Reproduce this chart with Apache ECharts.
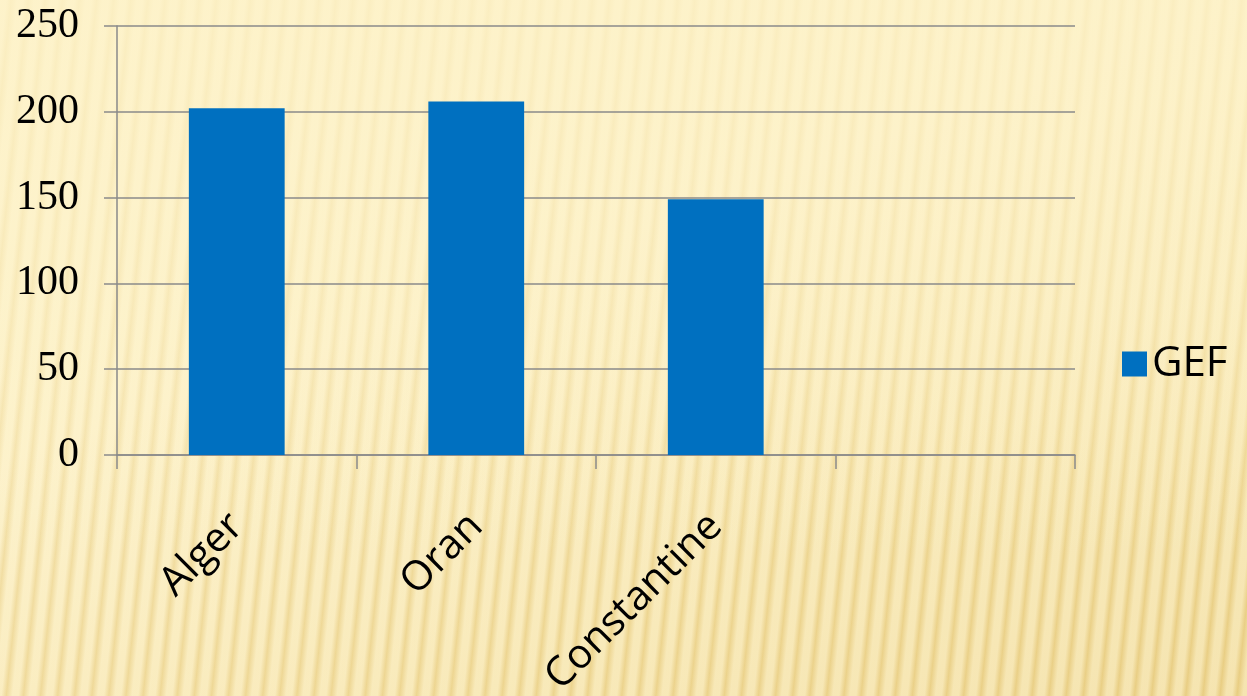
<!DOCTYPE html>
<html>
<head>
<meta charset="utf-8">
<script src="https://cdn.jsdelivr.net/npm/echarts@6/dist/echarts.min.js"></script>
<style>
html,body{margin:0;padding:0;width:1247px;height:696px;overflow:hidden;}
body{
  background:
    linear-gradient(to bottom, rgba(253,242,200,0.75) 0%, rgba(253,242,200,0.45) 45%, rgba(253,242,200,0) 80%),
    repeating-linear-gradient(96deg, rgba(255,248,220,0.45) 0px, rgba(255,248,220,0.45) 6px, rgba(215,180,95,0.22) 11px, rgba(255,248,220,0.45) 17px),
    linear-gradient(160deg, #FDF1C6 0%, #FBEDBE 40%, #F3DE9E 75%, #EDD48C 100%);
}
#chart{width:1247px;height:696px;}
</style>
</head>
<body>
<div id="chart"></div>
<script>
const categories = ['Alger', 'Oran', 'Constantine', ''];
const gefValues = [202, 206, 149, null];
const seriesName = 'GEF';
const yTicks = { min: 0, max: 250, interval: 50 };

const chart = echarts.init(document.getElementById('chart'));
const axisGray = '#8A8A8A';
chart.setOption({
  backgroundColor: 'transparent',
  animation: false,
  grid: { left: 117, right: 172, top: 26, bottom: 241, containLabel: false, outerBoundsMode: 'none' },
  legend: {
    data: [seriesName],
    left: 1117, top: 338,
    icon: 'rect', itemWidth: 25, itemHeight: 25, itemGap: 12,
    textStyle: { fontFamily: 'Open Sans', fontSize: 42, color: '#000' }
  },
  xAxis: {
    type: 'category',
    data: categories,
    boundaryGap: true,
    axisLine: { lineStyle: { color: axisGray, width: 1.5 } },
    axisTick: { show: true, interval: 0, length: 14, lineStyle: { color: axisGray, width: 1.5 } },
    axisLabel: {
      interval: 0, rotate: 45, margin: 65,
      fontFamily: 'Open Sans', fontSize: 41, color: '#000'
    }
  },
  yAxis: {
    type: 'value',
    min: yTicks.min, max: yTicks.max, interval: yTicks.interval,
    axisLine: { show: true, lineStyle: { color: axisGray, width: 1.5 } },
    axisTick: { show: true, length: 13, lineStyle: { color: axisGray, width: 1.5 } },
    splitLine: { show: true, lineStyle: { color: axisGray, width: 1.5 } },
    axisLabel: { margin: 38, fontFamily: 'Liberation Serif', fontSize: 42, color: '#000' }
  },
  series: [{
    name: seriesName,
    type: 'bar',
    data: gefValues,
    barWidth: '40%',
    itemStyle: { color: '#0070C0' }
  }]
});
</script>
</body>
</html>
